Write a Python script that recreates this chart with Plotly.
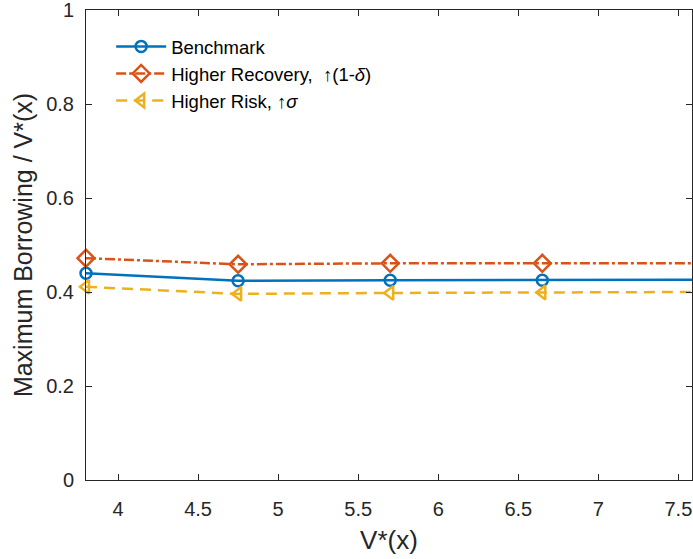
import plotly.graph_objects as go

x_vals = [3.8, 4.75, 5.7, 6.65, 7.6]
benchmark = [0.440, 0.424, 0.425, 0.425, 0.426]
higher_recovery = [0.472, 0.459, 0.461, 0.461, 0.461]
higher_risk = [0.411, 0.396, 0.398, 0.399, 0.400]

names = ["Benchmark", "Higher Recovery,  \u2191(1-<i>\u03b4</i>)", "Higher Risk, \u2191<i>\u03c3</i>"]
colors = ["#0072BD", "#D95319", "#EDB120"]
symbols = ["circle-open", "diamond-open", "triangle-left-open"]
dashes = ["solid", "10px,3px,3px,3px", "11px,7px"]
sizes = [11, 13, 12]
series = [benchmark, higher_recovery, higher_risk]

fig = go.Figure()
for s, n, c, sym, d, sz in zip(series, names, colors, symbols, dashes, sizes):
    fig.add_trace(go.Scatter(
        x=x_vals, y=s, name=n, mode="lines+markers",
        line=dict(color=c, width=2.5, dash=d),
        marker=dict(symbol=sym, size=sz, color=c, line=dict(color=c, width=2.5)),
        cliponaxis=False,
    ))

axis_common = dict(
    showgrid=False, zeroline=False, showline=True, mirror="ticks",
    linecolor="#262626", linewidth=1, ticks="inside", ticklen=6,
    tickcolor="#262626", automargin=False, ticklabeloverflow="allow",
    tickfont=dict(size=20, color="#262626", family="Liberation Sans"),
)

fig.update_layout(
    width=693, height=559,
    paper_bgcolor="white", plot_bgcolor="white",
    margin=dict(l=86, r=1, t=10, b=79, autoexpand=False),
    font=dict(family="Liberation Sans", color="#262626"),
    xaxis=dict(range=[3.8, 7.585], tickvals=[4, 4.5, 5, 5.5, 6, 6.5, 7, 7.5],
               ticktext=["4", "4.5", "5", "5.5", "6", "6.5", "7", "7.5"],
               ticklabelstandoff=11,
               title=dict(text="V*(x)", font=dict(size=26, color="#262626"), standoff=11),
               **axis_common),
    yaxis=dict(range=[0, 1], tickvals=[0, 0.2, 0.4, 0.6, 0.8, 1],
               ticktext=["0", "0.2", "0.4", "0.6", "0.8", "1"],
               ticklabelstandoff=7,
               title=dict(text="Maximum Borrowing / V*(x)", font=dict(size=25, color="#262626"), standoff=6),
               **axis_common),
    legend=dict(x=0.0415, y=0.962, xanchor="left", yanchor="top",
                bgcolor="rgba(255,255,255,0)", borderwidth=0,
                font=dict(size=18.5, color="#000000", family="Liberation Sans"),
                itemwidth=50, tracegroupgap=0),
    showlegend=True,
)

fig.write_html("out.html", config={"displayModeBar": False},
               post_script="document.body.style.margin='0';document.body.style.overflow='hidden';")
